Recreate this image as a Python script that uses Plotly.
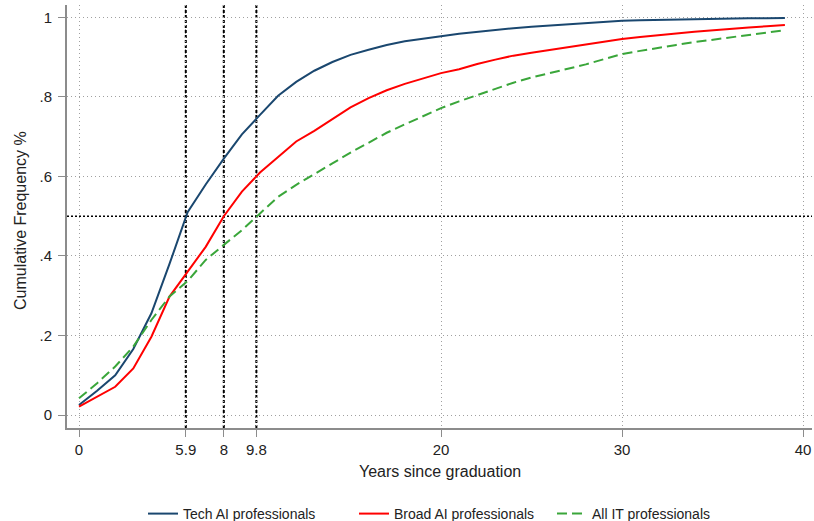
import plotly.graph_objects as go

years = list(range(0, 40))

tech_ai = [0.025, 0.061, 0.100, 0.166, 0.256, 0.380, 0.510, 0.580, 0.645, 0.706,
           0.755, 0.803, 0.838, 0.866, 0.888, 0.906, 0.919, 0.931, 0.940, 0.947,
           0.953, 0.959, 0.964, 0.969, 0.973, 0.977, 0.980, 0.984, 0.987, 0.990,
           0.992, 0.993, 0.994, 0.995, 0.996, 0.997, 0.997, 0.998, 0.998, 0.999]

broad_ai = [0.021, 0.045, 0.071, 0.117, 0.197, 0.298, 0.360, 0.423, 0.500, 0.562,
            0.610, 0.650, 0.688, 0.715, 0.745, 0.774, 0.797, 0.817, 0.833, 0.847,
            0.860, 0.870, 0.883, 0.894, 0.904, 0.911, 0.918, 0.926, 0.933, 0.940,
            0.946, 0.951, 0.956, 0.960, 0.964, 0.968, 0.972, 0.975, 0.978, 0.981]

all_it = [0.042, 0.080, 0.122, 0.172, 0.239, 0.298, 0.337, 0.390, 0.428, 0.465,
          0.507, 0.549, 0.579, 0.605, 0.633, 0.660, 0.685, 0.710, 0.731, 0.752,
          0.772, 0.789, 0.805, 0.820, 0.836, 0.849, 0.860, 0.871, 0.882, 0.895,
          0.908, 0.916, 0.924, 0.931, 0.938, 0.944, 0.950, 0.956, 0.962, 0.968]

median_years = [5.9, 8, 9.8]
median_level = 0.5

x_tickvals = [0, 5.9, 8, 9.8, 20, 30, 40]
x_ticktext = ["0", "5.9", "8", "9.8", "20", "30", "40"]
y_tickvals = [0, 0.2, 0.4, 0.6, 0.8, 1]
y_ticktext = ["0", ".2", ".4", ".6", ".8", "1"]

FONT = "Liberation Sans, Arial, sans-serif"
TXT = "#222222"

fig = go.Figure()
fig.add_trace(go.Scatter(x=years, y=tech_ai, mode="lines", name="Tech AI professionals",
                         line=dict(color="#1a476f", width=2), legend="legend"))
fig.add_trace(go.Scatter(x=years, y=broad_ai, mode="lines", name="Broad AI professionals",
                         line=dict(color="#ff0000", width=2), legend="legend2"))
fig.add_trace(go.Scatter(x=years, y=all_it, mode="lines", name="All IT professionals",
                         line=dict(color="#3aa63a", width=2, dash="10px,5px"), legend="legend3"))

for xv in median_years:
    fig.add_vline(x=xv, line=dict(color="black", width=2, dash="3px,2px"), layer="below")
fig.add_hline(y=median_level, line=dict(color="black", width=1.5, dash="2px,2px"), layer="below")

leg_common = dict(orientation="h", y=-0.2033, yanchor="middle", xanchor="left",
                  font=dict(size=14, color=TXT, family=FONT), itemwidth=30,
                  bgcolor="rgba(0,0,0,0)")

fig.update_layout(
    width=814, height=521,
    margin=dict(l=67, r=2, t=5, b=93, autoexpand=False),
    paper_bgcolor="white", plot_bgcolor="white",
    font=dict(family=FONT, size=15, color=TXT),
    showlegend=True,
    legend=dict(x=0.0913 + 8 / 745, **leg_common),
    legend2=dict(x=0.3785 + 5 / 745, **leg_common),
    legend3=dict(x=0.6416 + 7 / 745, **leg_common),
    xaxis=dict(range=[-0.663, 40.497], tickvals=x_tickvals, ticktext=x_ticktext,
               showline=True, linecolor="#8c8c8c", linewidth=2,
               ticks="outside", ticklen=7, tickcolor="#8c8c8c", tickwidth=1,
               showgrid=True, gridcolor="#a0a0a0", gridwidth=1, griddash="1px,3px",
               zeroline=False, automargin=False, tickfont=dict(size=15)),
    yaxis=dict(range=[-0.0327, 1.0314], tickvals=y_tickvals, ticktext=y_ticktext,
               showline=True, linecolor="#8c8c8c", linewidth=2,
               ticks="outside", ticklen=7, tickcolor="#8c8c8c", tickwidth=1,
               showgrid=True, gridcolor="#a0a0a0", gridwidth=1, griddash="1px,3px",
               zeroline=False, automargin=False, tickfont=dict(size=15),
               ticklabelstandoff=3),
)

fig.add_annotation(text="Years since graduation", xref="paper", yref="paper",
                   x=(440 - 67) / 745, y=(428 - 472) / 423, xanchor="center", yanchor="middle",
                   showarrow=False, font=dict(size=16, color=TXT))
fig.add_annotation(text="Cumulative Frequency %", xref="paper", yref="paper",
                   x=(20 - 67) / 745, y=(428 - 221) / 423, xanchor="center", yanchor="middle",
                   textangle=-90, showarrow=False, font=dict(size=16, color=TXT))

fig.write_html("out.html", config={"displayModeBar": False},
               post_script="document.body.style.margin='0';document.body.style.overflow='hidden';")
